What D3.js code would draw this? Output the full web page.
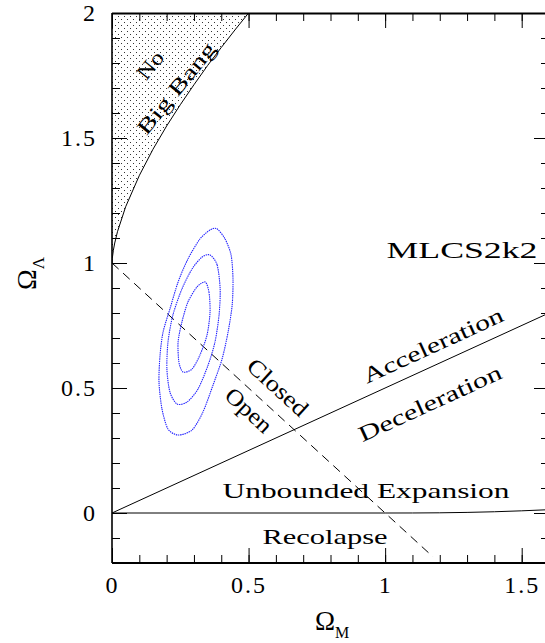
<!DOCTYPE html>
<html>
<head>
<meta charset='utf-8'>
<title>MLCS2k2</title>
<script src='https://cdn.jsdelivr.net/npm/d3@7/dist/d3.min.js'></script>
<style>
  body { margin: 0; background: #fff; }
  text { font-family: 'Liberation Serif', serif; fill: #000; }
</style>
</head>
<body>
<svg width='545' height='643'></svg>
<script>
// boundary of the "No Big Bang" region
const noBangM = [0, 0.001, 0.005, 0.01, 0.02, 0.05, 0.1, 0.15, 0.2, 0.25, 0.3, 0.35, 0.4, 0.45, 0.5]
const noBangL = [1, 1.018, 1.051, 1.080, 1.125, 1.225, 1.350, 1.455, 1.548, 1.633, 1.713, 1.790, 1.862, 1.932, 2.0]

// recollapse boundary
const recolM = [0, 1.0, 1.1, 1.2, 1.3, 1.4, 1.5, 1.6]
const recolL = [0, 0, 0.0001, 0.0008, 0.0024, 0.005, 0.0087, 0.0133]

// acceleration / deceleration line and closed / open (flat) line
const accelM = [0, 1.6]
const accelL = [0, 0.8]
const flatM = [0, 1.175]
const flatL = [1, -0.175]

// confidence contours (outer, middle, inner)
const contour3M = [0.384, 0.414, 0.436, 0.443, 0.440, 0.425, 0.403, 0.370, 0.333, 0.293, 0.242, 0.205, 0.183, 0.172, 0.176, 0.187, 0.212, 0.242, 0.278, 0.322, 0.359]
const contour3L = [1.137, 1.096, 1.032, 0.936, 0.832, 0.724, 0.616, 0.512, 0.404, 0.332, 0.312, 0.336, 0.416, 0.524, 0.632, 0.724, 0.816, 0.924, 1.016, 1.096, 1.132]
const contour2M = [0.359, 0.385, 0.396, 0.392, 0.377, 0.352, 0.315, 0.275, 0.238, 0.212, 0.201, 0.205, 0.223, 0.256, 0.293, 0.330]
const contour2L = [1.032, 0.992, 0.896, 0.792, 0.684, 0.592, 0.496, 0.444, 0.436, 0.484, 0.576, 0.684, 0.792, 0.896, 0.976, 1.024]
const contour1M = [0.341, 0.355, 0.359, 0.348, 0.322, 0.293, 0.260, 0.245, 0.242, 0.256, 0.278, 0.311]
const contour1L = [0.924, 0.884, 0.804, 0.712, 0.632, 0.576, 0.564, 0.604, 0.684, 0.764, 0.844, 0.904]

const xMajor = [0, 0.5, 1, 1.5]
const yMajor = [0, 0.5, 1, 1.5, 2]

const svg = d3.select('svg')

const x = d3.scaleLinear().domain([0, 1.6]).range([112, 549])
const y = d3.scaleLinear().domain([-0.2, 2]).range([563, 13])

const pts = (ms, ls) => ms.map((m, i) => [m, ls[i]])

const line = d3.line().x(d => x(d[0])).y(d => y(d[1]))
const closedCurve = d3.line().x(d => x(d[0])).y(d => y(d[1])).curve(d3.curveCardinalClosed.tension(0.2))

// clip to plot area
svg.append('clipPath').attr('id', 'plot')
  .append('rect').attr('x', 112).attr('y', 13).attr('width', 437).attr('height', 550)

// dotted fill pattern
const pat = svg.append('defs').append('pattern')
  .attr('id', 'dots').attr('patternUnits', 'userSpaceOnUse')
  .attr('width', 6).attr('height', 6)
pat.append('rect').attr('x', 1).attr('y', 1).attr('width', 1).attr('height', 1).attr('fill', '#333')
pat.append('rect').attr('x', 4).attr('y', 4).attr('width', 1).attr('height', 1).attr('fill', '#333')

const plot = svg.append('g').attr('clip-path', 'url(#plot)')

// No Big Bang region
plot.append('path')
  .attr('d', line(pts(noBangM, noBangL).concat([[0, 2]])) + 'Z')
  .attr('fill', 'url(#dots)')
plot.append('path')
  .attr('d', line(pts(noBangM, noBangL)))
  .attr('fill', 'none').attr('stroke', '#000').attr('stroke-width', 1)

// boundaries
plot.append('path').attr('d', line(pts(recolM, recolL)))
  .attr('fill', 'none').attr('stroke', '#000').attr('stroke-width', 1)
plot.append('path').attr('d', line(pts(accelM, accelL)))
  .attr('fill', 'none').attr('stroke', '#000').attr('stroke-width', 1)
plot.append('path').attr('d', line(pts(flatM, flatL)))
  .attr('fill', 'none').attr('stroke', '#000').attr('stroke-width', 1)
  .attr('stroke-dasharray', '9,6')

// contours
const contours = [pts(contour3M, contour3L), pts(contour2M, contour2L), pts(contour1M, contour1L)]
plot.selectAll('.contour')
  .data(contours)
  .enter()
  .append('path')
  .attr('class', 'contour')
  .attr('d', d => closedCurve(d))
  .attr('fill', 'none')
  .attr('stroke', '#2020ff')
  .attr('stroke-width', 1.1)
  .attr('stroke-dasharray', '1.4,0.8')

// axes: minor ticks, major ticks with labels
const tickStyle = g => {
  g.selectAll('.tick line').attr('stroke', '#000').attr('stroke-width', 1)
  g.selectAll('.tick text').attr('font-size', 24).attr('font-family', 'Liberation Serif').attr('letter-spacing', 2)
  g.select('.domain').remove()
}

svg.append('g').attr('transform', 'translate(0,563)')
  .call(d3.axisBottom(x).tickValues(x.ticks(16)).tickSizeInner(-8).tickSizeOuter(0).tickFormat(''))
  .call(tickStyle)
svg.append('g').attr('transform', 'translate(0,563)')
  .call(d3.axisBottom(x).tickValues(xMajor).tickSizeInner(-15).tickSizeOuter(0).tickPadding(13).tickFormat(d3.format('')))
  .call(tickStyle)
svg.append('g').attr('transform', 'translate(0,13)')
  .call(d3.axisTop(x).tickValues(x.ticks(16)).tickSizeInner(-8).tickSizeOuter(0).tickFormat(''))
  .call(tickStyle)
svg.append('g').attr('transform', 'translate(0,13)')
  .call(d3.axisTop(x).tickValues(xMajor).tickSizeInner(-15).tickSizeOuter(0).tickFormat(''))
  .call(tickStyle)

svg.append('g').attr('transform', 'translate(112,0)')
  .call(d3.axisLeft(y).tickValues(y.ticks(22)).tickSizeInner(-8).tickSizeOuter(0).tickFormat(''))
  .call(tickStyle)
svg.append('g').attr('transform', 'translate(112,0)')
  .call(d3.axisLeft(y).tickValues(yMajor).tickSizeInner(-15).tickSizeOuter(0).tickPadding(15).tickFormat(d3.format('')))
  .call(tickStyle)
svg.append('g').attr('transform', 'translate(549,0)')
  .call(d3.axisRight(y).tickValues(y.ticks(22)).tickSizeInner(-8).tickSizeOuter(0).tickFormat(''))
  .call(tickStyle)
svg.append('g').attr('transform', 'translate(549,0)')
  .call(d3.axisRight(y).tickValues(yMajor).tickSizeInner(-15).tickSizeOuter(0).tickFormat(''))
  .call(tickStyle)

// frame
svg.append('line').attr('x1', 112).attr('x2', 549).attr('y1', 563).attr('y2', 563).attr('stroke', '#000').attr('stroke-width', 2.2)
svg.append('line').attr('x1', 112).attr('x2', 549).attr('y1', 13.5).attr('y2', 13.5).attr('stroke', '#000').attr('stroke-width', 2)
svg.append('line').attr('x1', 112).attr('x2', 112).attr('y1', 13).attr('y2', 563).attr('stroke', '#000').attr('stroke-width', 1.6)

// region labels
const labels = [
  { t: 'MLCS2k2', x: 462, y: 258, r: 0, len: 151, fs: 23, dy: 0 },
  { t: 'Unbounded Expansion', x: 366, y: 498, r: 0, len: 287, fs: 22, dy: 0 },
  { t: 'Recolapse', x: 325, y: 544, r: 0, len: 125, fs: 22, dy: 0 },
  { t: 'Acceleration', x: 436, y: 352, r: -24.6, len: 152, fs: 22, dy: 0 },
  { t: 'Deceleration', x: 433, y: 410, r: -24.6, len: 155, fs: 22, dy: 0 },
  { t: 'Closed', x: 278, y: 387, r: 42.5, len: 74, fs: 23, dy: 0.35 },
  { t: 'Open', x: 249, y: 410, r: 42.5, len: 55, fs: 23, dy: 0.35 },
  { t: 'No', x: 150, y: 65, r: -51, len: 30, fs: 21, dy: 0.35 },
  { t: 'Big Bang', x: 176, y: 88, r: -51, len: 112, fs: 21, dy: 0.35 }
]
svg.selectAll('.lab')
  .data(labels)
  .enter()
  .append('text')
  .attr('class', 'lab')
  .attr('transform', d => `translate(${d.x},${d.y}) rotate(${d.r})`)
  .attr('dy', d => d.dy + 'em')
  .attr('text-anchor', 'middle')
  .attr('font-size', d => d.fs)
  .attr('textLength', d => d.len)
  .attr('lengthAdjust', 'spacingAndGlyphs')
  .text(d => d.t)

// axis titles
const xt = svg.append('text').attr('x', 315).attr('y', 630)
xt.append('tspan').attr('font-size', 27).text('Ω')
xt.append('tspan').attr('font-size', 16).attr('dy', 8).text('M')

const yt = svg.append('text').attr('transform', 'translate(36,290) rotate(-90)')
yt.append('tspan').attr('font-size', 28).text('Ω')
yt.append('tspan').attr('font-size', 17).attr('dy', 8).text('Λ')
</script>
</body>
</html>
